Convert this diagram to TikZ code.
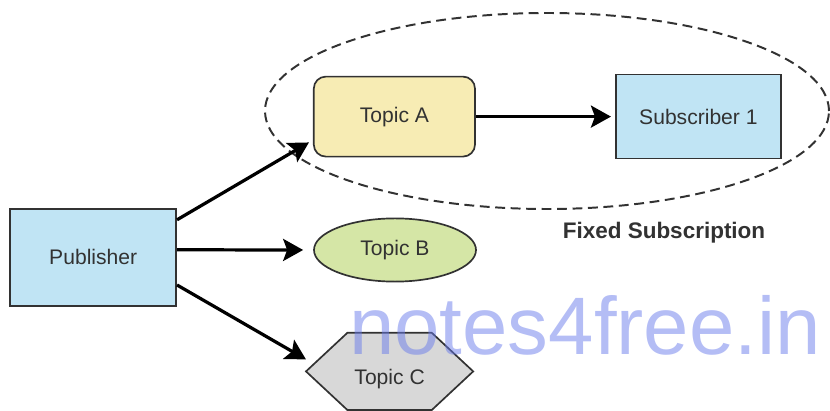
\documentclass[tikz,border=0pt]{standalone}
\usepackage{fontspec}
\setmainfont{Liberation Sans}
\usetikzlibrary{positioning,arrows.meta,shapes.geometric,shapes.symbols}
\definecolor{boxblue}{RGB}{192,228,244}
\definecolor{topicyellow}{RGB}{247,236,180}
\definecolor{topicgreen}{RGB}{213,230,166}
\definecolor{topicgray}{RGB}{216,216,216}
\definecolor{edgegray}{RGB}{50,50,50}
\definecolor{wmblue}{RGB}{105,123,235}
\begin{document}
\begin{tikzpicture}[
  box/.style={draw=edgegray, line width=1.2pt, text=edgegray, inner sep=0pt, font=\fontsize{15}{18}\selectfont},
  arr/.style={-{Stealth[length=5mm, width=5.5mm, inset=1mm]}, line width=2.3pt}]
\useasboundingbox (0,0) rectangle (20.75,10.275);
\node[ellipse, draw=edgegray, dash pattern=on 7pt off 4pt, line width=1.4pt, minimum width=14.1cm, minimum height=4.9cm] (grp) at (13.675,7.5) {};
\node[box, fill=boxblue, minimum width=4.15cm, minimum height=2.43cm] (pub) at (2.33,3.84) {Publisher};
\node[box, fill=topicyellow, rounded corners=3mm, minimum width=4.03cm, minimum height=2cm] (ta) at (9.86,7.36) {Topic A};
\node[box, fill=boxblue, minimum width=4.13cm, minimum height=2.1cm] (sub) at (17.46,7.36) {Subscriber 1};
\node[box, ellipse, fill=topicgreen, minimum width=4.05cm, minimum height=1.58cm] (tb) at (9.875,4.025) {Topic B};
\node[box, signal, signal to=east and west, signal pointer angle=86, fill=topicgray, minimum width=4.18cm, minimum height=1.93cm, text height=0.64cm, text depth=0pt] (tc) at (9.74,0.99) {Topic C};
\node[font=\bfseries\fontsize{16}{18}\selectfont, text=edgegray] (fixlbl) at (16.6,4.45) {Fixed Subscription};
% publisher to the three topics
\draw[arr] ([yshift=0.94cm]pub.east) -- ([shift={(-0.1cm,0.375cm)}]ta.south west);
\draw[arr, shorten >=0.25cm] ([yshift=0.19cm]pub.east) -- (tb.west);
\draw[arr] ([yshift=-0.69cm]pub.east) -- ([shift={(0.03cm,0.3cm)}]tc.west);
\draw[arr, shorten >=0.1cm] (ta.east) -- (sub.west);
\node[anchor=base, inner sep=0pt, text depth=0pt, text=wmblue, opacity=0.5, font=\fontsize{58}{60}\selectfont] (wm) at (14.625,1.4) {notes4free.in};
\end{tikzpicture}
\end{document}
